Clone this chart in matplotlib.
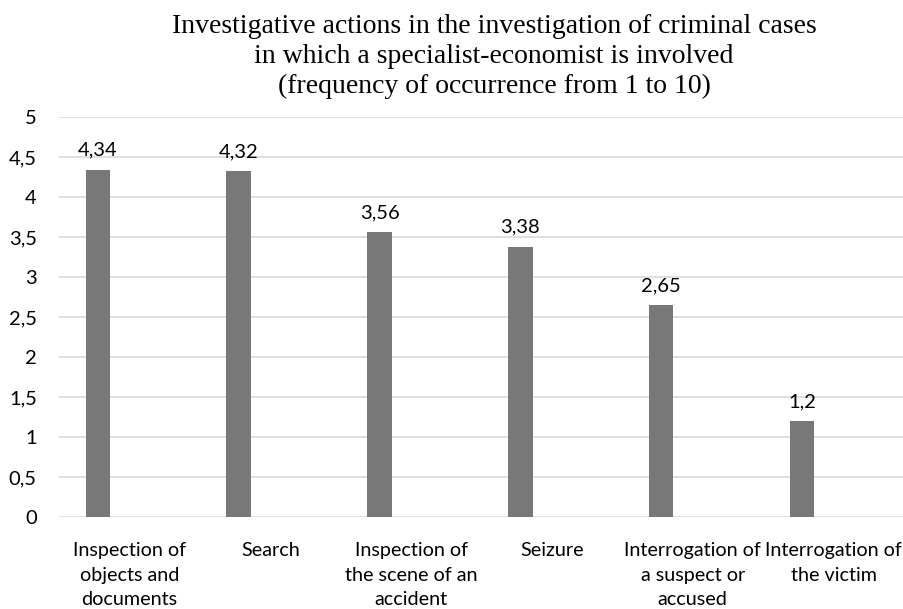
import matplotlib
matplotlib.use("Agg")
import matplotlib.pyplot as plt
import numpy as np

# chart data
categories = [
    "Inspection of\nobjects and\ndocuments",
    "Search",
    "Inspection of\nthe scene of an\naccident",
    "Seizure",
    "Interrogation of\na suspect or\naccused",
    "Interrogation of\nthe victim",
]
values = [4.34, 4.32, 3.56, 3.38, 2.65, 1.2]
value_labels = ["4,34", "4,32", "3,56", "3,38", "2,65", "1,2"]
y_ticks = [0, 0.5, 1, 1.5, 2, 2.5, 3, 3.5, 4, 4.5, 5]
y_tick_labels = ["0", "0,5", "1", "1,5", "2", "2,5", "3", "3,5", "4", "4,5", "5"]

title = ("Investigative actions in the investigation of criminal cases\n"
         "in which a specialist-economist is involved\n"
         "(frequency of occurrence from 1 to 10)")

sans = ["Lato", "DejaVu Sans"]
bar_color = "#787878"
grid_color = "#d9d9d9"

fig = plt.figure(figsize=(9.04, 6.09), dpi=100)
ax = fig.add_axes([59 / 904, 92 / 609, 845 / 904, 400 / 609])

x = np.arange(len(categories))
bar_shift = -0.224
ax.bar(x + bar_shift, values, width=0.174, color=bar_color, zorder=3)

for xi, v, lab in zip(x, values, value_labels):
    ax.annotate(lab, (xi + bar_shift, v), xytext=(0, 8), textcoords="offset points",
                ha="center", va="bottom", fontsize=14.5, family=sans, color="#000000")

ax.set_xlim(-0.5, len(categories) - 0.5)
ax.set_ylim(0, 5)
ax.set_yticks(y_ticks)
ax.set_yticklabels(y_tick_labels, family=sans, fontsize=14.5)
ax.set_xticks(x)
ax.set_xticklabels(categories, family=sans, fontsize=14.2, linespacing=1.55)
ax.tick_params(axis="both", length=0)
ax.tick_params(axis="y", pad=16)
ax.tick_params(axis="x", pad=18)

for s in ax.spines.values():
    s.set_visible(False)
ax.yaxis.grid(True, color=grid_color, linewidth=1.2, zorder=0)
ax.set_axisbelow(True)

fig.text(494 / 904, 1 - 14 / 609, title, ha="center", va="top", fontsize=20,
         family="Liberation Serif", linespacing=1.25)

fig.savefig("out.png", dpi=100)
